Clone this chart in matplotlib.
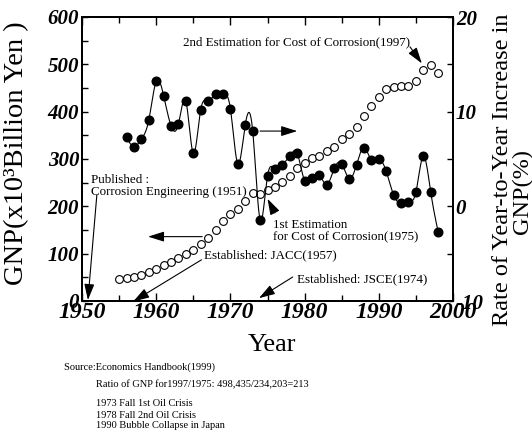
import numpy as np
import matplotlib
matplotlib.use("Agg")
import matplotlib.pyplot as plt

plt.rcParams["font.family"] = ["Liberation Serif", "DejaVu Serif"]
plt.rcParams["axes.unicode_minus"] = False

# GNP (x10^3 billion yen), 1955-1998
gnp_years = list(range(1955, 1999))
gnp = [46.5, 49, 51, 55, 61, 68, 76.5, 83, 91.5, 100,
       108, 120, 134, 151, 168, 184, 195, 211, 227.5, 226,
       234.2, 241.5, 251, 265, 281, 291.5, 301.5, 306, 316, 326,
       342, 352, 367, 390, 411, 430, 447, 453, 454, 455,
       465, 489, 498.4, 482.5]

# Year-to-year increase of GNP (%), 1956-1998
rate_years = list(range(1956, 1999))
rate = [7.3, 6.3, 7.1, 9.1, 13.2, 11.7, 8.5, 8.7, 11.1, 5.6,
        10.2, 11.1, 11.9, 11.9, 10.3, 4.5, 8.6, 8.0, -1.4, 3.2,
        3.9, 4.4, 5.3, 5.6, 2.7, 3.0, 3.3, 2.3, 4.0, 4.5,
        2.9, 4.4, 6.2, 4.9, 5.0, 3.7, 1.2, 0.3, 0.5, 1.5,
        5.3, 1.5, -2.7]

x_ticks = [1950, 1960, 1970, 1980, 1990, 2000]
left_ticks = [0, 100, 200, 300, 400, 500, 600]
right_ticks = [-10, 0, 10, 20]


def natural_spline(x, y, xs):
    x = np.asarray(x, float)
    y = np.asarray(y, float)
    n = len(x)
    h = np.diff(x)
    A = np.zeros((n, n))
    b = np.zeros(n)
    A[0, 0] = 1
    A[-1, -1] = 1
    for i in range(1, n - 1):
        A[i, i - 1] = h[i - 1]
        A[i, i] = 2 * (h[i - 1] + h[i])
        A[i, i + 1] = h[i]
        b[i] = 6 * ((y[i + 1] - y[i]) / h[i] - (y[i] - y[i - 1]) / h[i - 1])
    M = np.linalg.solve(A, b)
    idx = np.clip(np.searchsorted(x, xs) - 1, 0, n - 2)
    x0, x1 = x[idx], x[idx + 1]
    hh = x1 - x0
    t0 = x1 - xs
    t1 = xs - x0
    return (M[idx] * t0 ** 3 / (6 * hh) + M[idx + 1] * t1 ** 3 / (6 * hh)
            + (y[idx] / hh - M[idx] * hh / 6) * t0
            + (y[idx + 1] / hh - M[idx + 1] * hh / 6) * t1)


fig = plt.figure(figsize=(5.32, 4.38), dpi=100)
ax = fig.add_axes([82 / 532, 1 - 301 / 438, (453 - 82) / 532, (301 - 17) / 438])
ax2 = ax.twinx()

# growth-rate curve (right axis)
xs = np.linspace(rate_years[0], rate_years[-1], 800)
ax2.plot(xs, natural_spline(rate_years, rate, xs), color="black", lw=0.8, zorder=2)
ax2.plot(rate_years, rate, "o", color="black", ms=6.2, mec="black", zorder=3)

# GNP (left axis)
ax.plot(gnp_years, gnp, "o", mfc="white", mec="black", ms=5.6, mew=0.8, zorder=3)

ax.set_xlim(1950, 2000)
ax.set_ylim(0, 600)
ax2.set_ylim(-10, 20)

tick_font = dict(family="Liberation Serif", weight="bold", style="italic")
ax.set_xticks(x_ticks)
ax.set_xticklabels([str(v) for v in x_ticks], fontsize=17, **tick_font)
ax.set_xticks(np.arange(1955, 2000, 10), minor=True)
ax.set_yticks(left_ticks)
ax.set_yticklabels([str(v) for v in left_ticks], fontsize=15, **tick_font)
ax.set_yticks(np.arange(50, 600, 100), minor=True)
ax2.set_yticks(right_ticks)
ax2.set_yticklabels([str(v) for v in right_ticks], fontsize=15, **tick_font)
ax2.set_yticks(np.arange(-5, 20, 10), minor=True)

ax.tick_params(axis="x", which="both", direction="in", top=True, width=1.0, pad=1)
ax.tick_params(axis="x", which="major", length=6)
ax.tick_params(axis="x", which="minor", length=4)
ax.tick_params(axis="y", which="both", direction="in", length=4.5, width=1.0, pad=2)
ax2.tick_params(axis="y", which="both", direction="in", length=4.5, width=1.0, pad=2)
for a in (ax, ax2):
    for s in a.spines.values():
        s.set_linewidth(1.4)

# axis titles
fig.text(17 / 532, 1 - 153 / 438, "GNP(x10³Billion Yen )", rotation=90,
         ha="center", va="center", fontsize=20.5)
fig.text(272 / 532, 1 - 345 / 438, "Year", ha="center", va="center", fontsize=19)
fig.text(502 / 532, 1 - 170 / 438, "Rate of Year-to-Year Increase in", rotation=90,
         ha="center", va="center", fontsize=17.5)
fig.text(522 / 532, 1 - 191 / 438, "GNP(%)", rotation=90,
         ha="center", va="center", fontsize=17.5)

arrow = dict(arrowstyle="-|>,head_length=0.7,head_width=0.22", color="black",
             lw=0.8, shrinkA=0, shrinkB=0, mutation_scale=14)
note = dict(fontsize=9.4, ha="left", va="center")

ax.text(1963.6, 547, "2nd Estimation for Cost of Corrosion(1997)", **note)
ax.annotate("", xy=(1995.8, 502), xytext=(1994.2, 537), arrowprops=arrow)

ax.text(1951.2, 244, "Published :\nCorrosion Engineering (1951)",
        linespacing=1.0, **note)
ax.annotate("", xy=(1950.8, 2), xytext=(1952.0, 224), arrowprops=arrow,
            annotation_clip=False)

ax.text(1975.7, 147, "1st Estimation\nfor Cost of Corrosion(1975)",
        linespacing=1.0, **note)
ax.annotate("", xy=(1975.0, 216), xytext=(1976.0, 186), arrowprops=arrow)

ax.text(1966.4, 97, "Established: JACC(1957)", **note)
ax.annotate("", xy=(1956.9, -1), xytext=(1966.1, 87), arrowprops=arrow,
            annotation_clip=False)

ax.text(1979.0, 46.5, "Established: JSCE(1974)", **note)
ax.annotate("", xy=(1973.85, 6), xytext=(1978.4, 50.7), arrowprops=arrow)

# which axis each series belongs to
ax.annotate("", xy=(1979.0, 359), xytext=(1974.0, 359), arrowprops=arrow)
ax.annotate("", xy=(1958.9, 136), xytext=(1966.2, 136), arrowprops=arrow)

# notes below the chart
small = dict(fontsize=7.5, ha="left", va="center")
fig.text(64 / 532, 1 - 367 / 438, "Source:Economics Handbook(1999)", **small)
fig.text(95.5 / 532, 1 - 385 / 438,
         "Ratio of GNP for1997/1975: 498,435/234,203=213", **small)
fig.text(95.5 / 532, 1 - 404 / 438, "1973 Fall 1st Oil Crisis", **small)
fig.text(95.5 / 532, 1 - 415 / 438, "1978 Fall 2nd Oil Crisis", **small)
fig.text(95.5 / 532, 1 - 426 / 438, "1990 Bubble Collapse in Japan", **small)

fig.savefig("out.png", dpi=100)
